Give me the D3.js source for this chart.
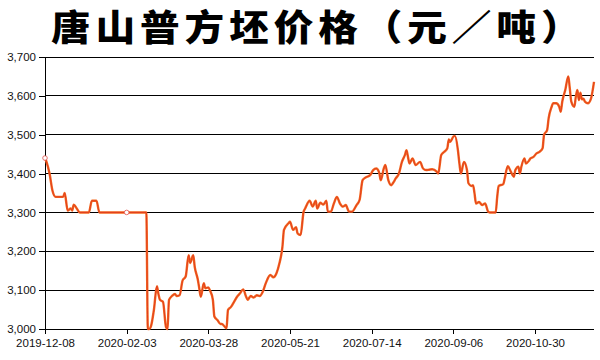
<!DOCTYPE html>
<html>
<head>
<meta charset="utf-8">
<script src="https://cdn.jsdelivr.net/npm/d3@7/dist/d3.min.js"></script>
<style>
  html, body { margin: 0; padding: 0; background: #fff; }
  svg { display: block; }
</style>
</head>
<body>
<svg id="chart" width="600" height="360"></svg>
<script>
const title = "唐山普方坯价格（元／吨）";
const firstDay = "2019-12-08";
const lastDay = "2020-12-08";
const skippedDays = ["2020-01-24", "2020-01-25", "2020-01-26"];
const tickLabels = ["2019-12-08", "2020-02-03", "2020-03-28", "2020-05-21", "2020-07-14", "2020-09-06", "2020-10-30"];
const yTicks = [3000, 3100, 3200, 3300, 3400, 3500, 3600, 3700];
const markerDates = ["2019-12-08", "2020-02-03"];

const dates = [
"2019-12-08","2019-12-09","2019-12-11","2019-12-13","2019-12-15","2019-12-20","2019-12-21","2019-12-23","2019-12-25","2019-12-26",
"2019-12-27","2019-12-29","2019-12-31","2020-01-06","2020-01-08","2020-01-11","2020-01-13","2020-02-03","2020-02-16","2020-02-17",
"2020-02-18","2020-02-19","2020-02-21","2020-02-23","2020-02-24","2020-02-25","2020-02-27","2020-02-29","2020-03-01","2020-03-02",
"2020-03-04","2020-03-06","2020-03-07","2020-03-09","2020-03-11","2020-03-13","2020-03-15","2020-03-16","2020-03-18","2020-03-19",
"2020-03-21","2020-03-22","2020-03-23","2020-03-25","2020-03-26","2020-03-28","2020-03-29","2020-03-31","2020-04-01","2020-04-03",
"2020-04-05","2020-04-06","2020-04-09","2020-04-10","2020-04-12","2020-04-14","2020-04-16","2020-04-18","2020-04-20","2020-04-22",
"2020-04-23","2020-04-25","2020-04-27","2020-04-29","2020-05-01","2020-05-03","2020-05-05","2020-05-08","2020-05-10","2020-05-12",
"2020-05-14","2020-05-16","2020-05-17","2020-05-20","2020-05-21","2020-05-23","2020-05-25","2020-05-26","2020-05-28","2020-05-30",
"2020-05-31","2020-06-03","2020-06-05","2020-06-07","2020-06-08","2020-06-10","2020-06-12","2020-06-14","2020-06-15","2020-06-17",
"2020-06-19","2020-06-21","2020-06-23","2020-06-25","2020-06-27","2020-06-28","2020-06-29","2020-07-01","2020-07-04","2020-07-06",
"2020-07-08","2020-07-10","2020-07-13","2020-07-15","2020-07-17","2020-07-19","2020-07-20","2020-07-22","2020-07-23","2020-07-25",
"2020-07-27","2020-07-28","2020-07-30","2020-08-01","2020-08-03","2020-08-05","2020-08-06","2020-08-07","2020-08-08","2020-08-10",
"2020-08-12","2020-08-15","2020-08-17","2020-08-19","2020-08-21","2020-08-23","2020-08-26","2020-08-27","2020-08-29","2020-08-31",
"2020-09-02","2020-09-03","2020-09-04","2020-09-06","2020-09-07","2020-09-09","2020-09-10","2020-09-11","2020-09-13","2020-09-15",
"2020-09-16","2020-09-18","2020-09-19","2020-09-20","2020-09-21","2020-09-23","2020-09-25","2020-09-27","2020-09-29","2020-09-30",
"2020-10-04","2020-10-05","2020-10-06","2020-10-09","2020-10-10","2020-10-12","2020-10-14","2020-10-16","2020-10-17","2020-10-19",
"2020-10-20","2020-10-21","2020-10-23","2020-10-24","2020-10-26","2020-10-27","2020-10-29","2020-10-31","2020-11-02","2020-11-04",
"2020-11-05","2020-11-07","2020-11-08","2020-11-10","2020-11-11","2020-11-13","2020-11-15","2020-11-16","2020-11-17","2020-11-19",
"2020-11-21","2020-11-22","2020-11-23","2020-11-25","2020-11-26","2020-11-27","2020-11-28","2020-11-29","2020-11-30","2020-12-01",
"2020-12-02","2020-12-04","2020-12-06","2020-12-08"
];
const prices = [
3440,3430,3400,3355,3340,3340,3350,3305,3310,3305,
3320,3310,3300,3300,3330,3330,3300,3300,3300,3000,
3000,3006,3049,3110,3090,3075,3070,3005,3000,3075,
3085,3090,3085,3087,3125,3135,3190,3170,3190,3160,
3128,3105,3083,3118,3105,3107,3100,3075,3032,3023,
3013,3013,3002,3049,3057,3070,3083,3092,3102,3083,
3075,3085,3081,3087,3085,3096,3118,3139,3133,3143,
3169,3212,3255,3272,3276,3255,3262,3246,3242,3302,
3310,3330,3315,3330,3310,3325,3320,3330,3302,3302,
3323,3340,3323,3315,3319,3310,3302,3302,3319,3332,
3383,3390,3396,3409,3413,3402,3383,3413,3422,3383,
3370,3375,3388,3400,3430,3448,3460,3443,3426,3439,
3422,3430,3413,3409,3410,3411,3405,3400,3448,3456,
3465,3488,3482,3495,3497,3461,3426,3400,3430,3409,
3375,3368,3370,3349,3323,3327,3319,3323,3302,3300,
3300,3340,3368,3373,3388,3419,3405,3392,3409,3418,
3400,3418,3439,3426,3433,3439,3443,3452,3456,3465,
3500,3512,3542,3572,3581,3581,3572,3559,3585,3615,
3650,3619,3585,3572,3598,3615,3589,3608,3591,3593,
3585,3581,3593,3636
];

// category axis: one category per calendar day, holiday days skipped
const fmt = d3.timeFormat("%Y-%m-%d");
const parse = d3.timeParse("%Y-%m-%d");
const categories = d3.timeDay.range(parse(firstDay), d3.timeDay.offset(parse(lastDay), 1))
  .map(fmt).filter(d => !skippedDays.includes(d));

const data = dates.map((d, i) => ({ date: d, value: prices[i] }));

const svg = d3.select("#chart");
const mLeft = 45, mRight = 594, mTop = 57, mBottom = 329;

const x = d3.scalePoint().domain(categories).range([mLeft, mRight]);
const y = d3.scaleLinear().domain([3000, 3700]).range([mBottom, mTop]);

const axisFont = "'Liberation Sans', Arial, sans-serif";

// title (slightly widened glyphs like the calligraphic original)
svg.append("text")
  .attr("transform", "translate(51,41) scale(1.1,1)")
  .attr("font-family", "'Noto Sans CJK SC', sans-serif")
  .attr("font-weight", 900)
  .attr("font-size", 36)
  .attr("letter-spacing", 4.5)
  .attr("fill", "#000")
  .text(title);

// gridlines
svg.append("g").selectAll("line").data(yTicks).join("line")
  .attr("x1", mLeft).attr("x2", mRight)
  .attr("y1", d => y(d)).attr("y2", d => y(d))
  .attr("stroke", "#000").attr("stroke-width", 1)
  .attr("shape-rendering", "crispEdges");

// y axis
const yAxis = svg.append("g").attr("transform", `translate(${mLeft},0)`)
  .call(d3.axisLeft(y).tickValues(yTicks).tickSize(6).tickPadding(3)
    .tickFormat(d3.format(",")));
yAxis.select(".domain").attr("stroke", "#000").attr("shape-rendering", "crispEdges");
yAxis.selectAll(".tick line").attr("stroke", "#000").attr("shape-rendering", "crispEdges");
yAxis.selectAll("text").attr("font-family", axisFont).attr("font-size", 11.5).attr("fill", "#111");

// x axis
const xAxis = svg.append("g").attr("transform", `translate(0,${mBottom})`)
  .call(d3.axisBottom(x).tickValues(tickLabels).tickSize(5).tickPadding(5).tickSizeOuter(0));
xAxis.select(".domain").remove();
xAxis.selectAll(".tick line").attr("stroke", "#000").attr("shape-rendering", "crispEdges");
xAxis.selectAll("text").attr("font-family", axisFont).attr("font-size", 11.5).attr("fill", "#111");

// line
const line = d3.line().x(d => x(d.date)).y(d => y(d.value)).curve(d3.curveMonotoneX);
svg.append("path").datum(data)
  .attr("d", line).attr("fill", "none")
  .attr("stroke", "#f36a21").attr("stroke-width", 2.4).attr("stroke-linejoin", "round");
svg.append("path").datum(data)
  .attr("d", line).attr("fill", "none")
  .attr("stroke", "#e0381e").attr("stroke-width", 0.9).attr("stroke-linejoin", "round");

// hollow markers
svg.append("g").selectAll("circle")
  .data(data.filter(d => markerDates.includes(d.date))).join("circle")
  .attr("cx", d => x(d.date)).attr("cy", d => y(d.value)).attr("r", 2.3)
  .attr("fill", "#fff").attr("stroke", "#e0504a").attr("stroke-width", 0.8);
</script>
</body>
</html>
